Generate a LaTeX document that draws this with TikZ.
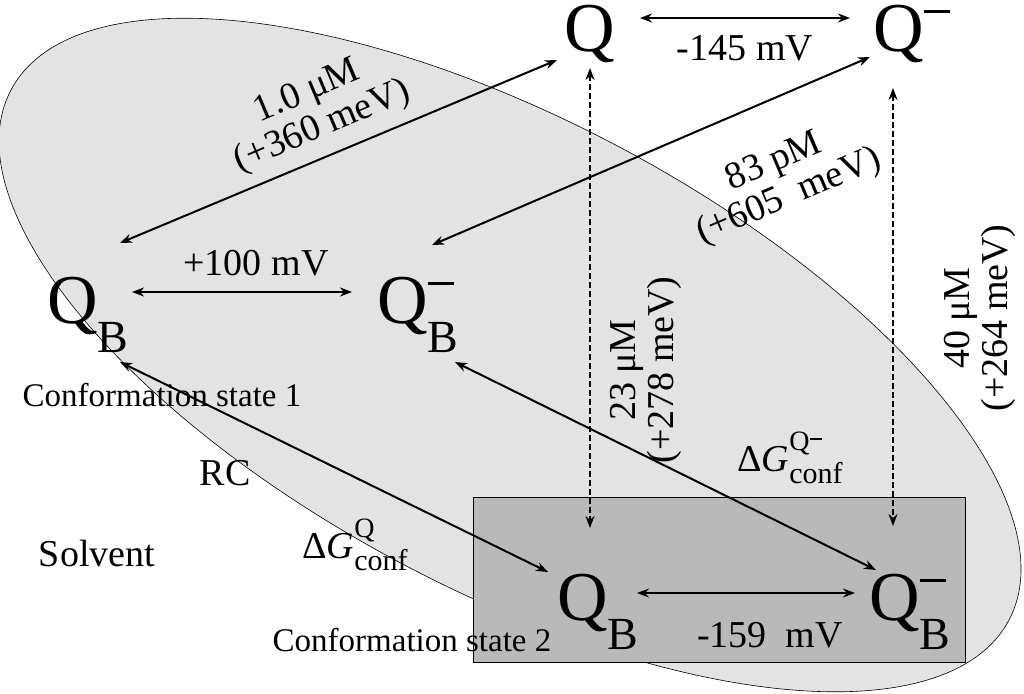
\documentclass[tikz,border=0pt]{standalone}
\usepackage{fontspec}
\setmainfont{Liberation Serif}
\usetikzlibrary{arrows.meta}
\newcommand{\fs}[1]{\fontsize{#1}{#1}\selectfont}
\newcommand{\qsub}[1]{Q\raisebox{-0.42em}{\fs{46}#1}}
\newcommand{\qsubm}[1]{Q\rlap{\raisebox{0.55em}{\rule{26pt}{2.5pt}}}\raisebox{-0.42em}{\fs{46}#1}}
\newcommand{\qm}{Q\raisebox{0.55em}{\rule{26pt}{2.5pt}}}
\newcommand{\dG}[1]{Δ\textit{G}\rlap{\raisebox{0.55em}{\fs{28}#1}}\raisebox{-0.3em}{\fs{30}conf}}
\begin{document}
\begin{tikzpicture}[x=1pt,y=-1pt,
  arr/.style={line width=2pt,{Stealth[length=12pt,width=9pt]}-{Stealth[length=12pt,width=9pt]}},
  darr/.style={arr,dash pattern=on 6pt off 3pt,line width=1.5pt},
  big/.style={inner sep=0pt,font=\fs{70}},
  lab/.style={inner sep=0pt,font=\fs{38},align=center},
  sml/.style={inner sep=0pt,font=\fs{33}}]
\useasboundingbox (0,0) rectangle (1024,693);
\fill[gray!22,draw=black,line width=0.6pt] (510,355) ellipse[x radius=565,y radius=235,rotate=-28];
\filldraw[fill=gray!55,draw=black,line width=0.6pt] (473,497) rectangle (965,662);
\node[big] (q) at (590,34) {Q};
\node[big] (qm) at (912,34) {\qm};
\node[big] (qb) at (88,315) {\qsub{B}};
\node[big] (qbm) at (418,315) {\qsubm{B}};
\node[big] (qb2) at (598,612) {\qsub{B}};
\node[big] (qbm2) at (910,612) {\qsubm{B}};
\coordinate (a1) at (640,18); \coordinate (a2) at (850,18);
\draw[arr] (a1) -- (a2);
\coordinate (b1) at (557,60); \coordinate (b2) at (120,243);
\draw[arr] (b1) -- (b2);
\coordinate (c1) at (870,57); \coordinate (c2) at (432,245);
\draw[arr] (c1) -- (c2);
\coordinate (d1) at (132,292); \coordinate (d2) at (352,292);
\draw[arr] (d1) -- (d2);
\coordinate (e1) at (590,68); \coordinate (e2) at (590,528);
\draw[darr] (e1) -- (e2);
\coordinate (f1) at (893,88); \coordinate (f2) at (893,526);
\draw[darr] (f1) -- (f2);
\coordinate (g1) at (120,362); \coordinate (g2) at (548,572);
\draw[arr] (g1) -- (g2);
\coordinate (h1) at (455,362); \coordinate (h2) at (876,570);
\draw[arr] (h1) -- (h2);
\coordinate (i1) at (637,593); \coordinate (i2) at (855,593);
\draw[arr] (i1) -- (i2);
\node[lab] (l1) at (745,48) {-145 mV};
\node[lab] (l2) at (256,263) {+100 mV};
\node[lab] (l3) at (770,635) {-159\ \ mV};
\node[lab,rotate=23] (l4) at (315,110) {1.0 μM\\(+360 meV)};
\node[lab,rotate=23] (l5) at (782,180) {83 pM\\(+605\ \ meV)};
\node[lab,rotate=90] (l6) at (646,370) {23 μM\\(+278 meV)};
\node[lab,rotate=90] (l7) at (980,318) {40 μM\\(+264 meV)};
\node[sml] (s1) at (162,395) {Conformation state 1};
\node[sml] (s2) at (412,640) {Conformation state 2};
\node[lab] (rc) at (225,473) {RC};
\node[lab] (sol) at (97,553) {Solvent};
\node[lab] (g1l) at (355,545) {\dG{Q}};
\node[lab] (g2l) at (790,458) {\dG{Q\raisebox{0.4em}{\rule{12pt}{1.5pt}}}};
\end{tikzpicture}
\end{document}
